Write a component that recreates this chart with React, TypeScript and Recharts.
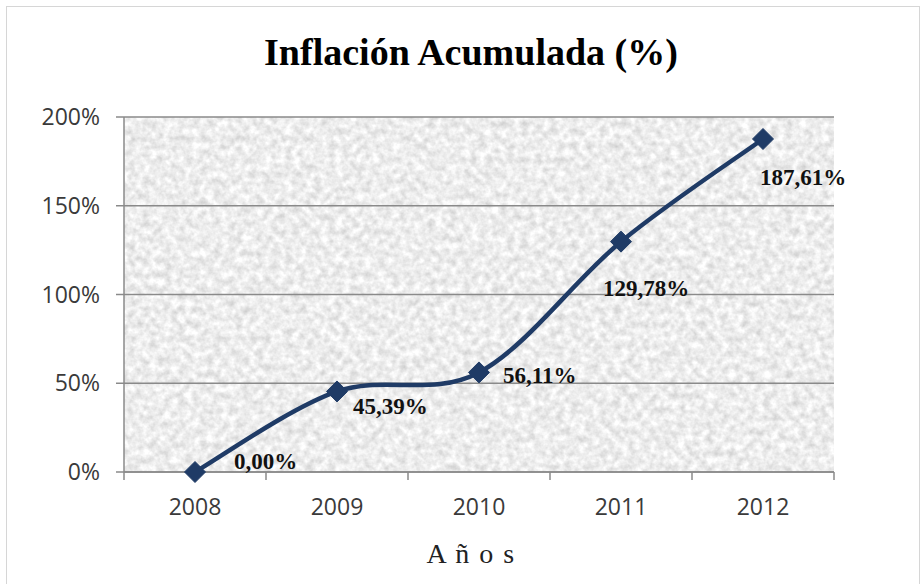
import React from "react";
import { LineChart, Line, XAxis, YAxis, CartesianGrid } from "recharts";

const years = [2008, 2009, 2010, 2011, 2012];
const inflation = [0, 45.39, 56.11, 129.78, 187.61];
const yTicks = [0, 50, 100, 150, 200];
const xTicks = [2007.5, 2008, 2008.5, 2009, 2009.5, 2010, 2010.5, 2011, 2011.5, 2012, 2012.5];
const chartTitle = "Inflación Acumulada (%)";
const xTitle = "A ñ o s";
// label placement (dx, dy from the point) — styling, not data
const labelOffsets: [number, number][] = [
  [39, -3],
  [16, 23],
  [24, 11],
  [-18, 54],
  [-3, 46],
];

const data = years.map((y, i) => ({ year: y, value: inflation[i] }));

const NAVY = "#1f3b66";
const GRID = "#8a8a8a";
const SANS = "'Open Sans', 'Noto Sans', sans-serif";
const SERIF = "'Liberation Serif', 'Times New Roman', serif";

// Excel-like smoothed line (Catmull-Rom style Bezier)
function excelCurve(context: any) {
  let pts: number[][] = [];
  return {
    areaStart() {},
    areaEnd() {},
    lineStart() {
      pts = [];
    },
    point(x: number, y: number) {
      pts.push([+x, +y]);
    },
    lineEnd() {
      if (!pts.length) return;
      context.moveTo(pts[0][0], pts[0][1]);
      for (let i = 0; i < pts.length - 1; i++) {
        const p0 = pts[Math.max(0, i - 1)];
        const p1 = pts[i];
        const p2 = pts[i + 1];
        const p3 = pts[Math.min(pts.length - 1, i + 2)];
        context.bezierCurveTo(
          p1[0] + (p2[0] - p0[0]) / 6,
          p1[1] + (p2[1] - p0[1]) / 6,
          p2[0] - (p3[0] - p1[0]) / 6,
          p2[1] - (p3[1] - p1[1]) / 6,
          p2[0],
          p2[1]
        );
      }
    },
  };
}

const fmt = (v: number) => v.toFixed(2).replace(".", ",") + "%";

const DiamondDot = (props: any) => {
  const { cx, cy, index, value } = props;
  if (cx == null || cy == null) return null;
  const r = 10.5;
  const off = labelOffsets[index] || [10, 20];
  return (
    <g>
      <polygon
        points={`${cx},${cy - r} ${cx + r},${cy} ${cx},${cy + r} ${cx - r},${cy}`}
        fill={NAVY}
        stroke={NAVY}
        strokeWidth={1}
      />
      <text
        x={cx + off[0]}
        y={cy + off[1]}
        textAnchor="start"
        fontFamily={SERIF}
        fontWeight="bold"
        fontSize={23}
        fill="#111"
      >
        {fmt(Array.isArray(value) ? value[1] : value)}
      </text>
    </g>
  );
};

const XTick = (props: any) => {
  const { x, y, payload } = props;
  const v = payload.value;
  if (Number.isInteger(v)) {
    return (
      <text x={x} y={y + 43} textAnchor="middle" fontFamily={SANS} fontSize={23} fill="#3a3a3a">
        {String(v)}
      </text>
    );
  }
  return <line x1={x} x2={x} y1={y} y2={y + 8} stroke={GRID} strokeWidth={1.5} />;
};

const YTick = (props: any) => {
  const { x, y, payload } = props;
  return (
    <text x={x} y={y + 8} textAnchor="end" fontFamily={SANS} fontSize={23} fill="#3a3a3a">
      {`${payload.value}%`}
    </text>
  );
};

export default function App() {
  return (
    <div style={{ position: "absolute", left: 0, top: 0, width: 924, height: 584, background: "#fff", overflow: "hidden" }}>
      <svg width={0} height={0} style={{ position: "absolute" }}>
        <defs>
          <filter id="noiseF" x="0" y="0" width="100%" height="100%" colorInterpolationFilters="sRGB">
            <feTurbulence type="fractalNoise" baseFrequency="0.14" numOctaves="3" seed="7" />
            <feColorMatrix
              type="matrix"
              values="0.28 0 0 0 0.79  0.28 0 0 0 0.79  0.28 0 0 0 0.79  0 0 0 0 1"
            />
          </filter>
          <pattern id="tex" patternUnits="userSpaceOnUse" width="924" height="584">
            <rect width="924" height="584" fill="#ebebeb" />
            <rect width="924" height="584" fill="#000" filter="url(#noiseF)" />
          </pattern>
        </defs>
      </svg>
      <div
        style={{
          position: "absolute",
          left: 6,
          top: 6,
          width: 914,
          height: 600,
          border: "1.5px solid #d6d6d6",
          boxSizing: "border-box",
        }}
      />
      <div style={{ position: "absolute", left: 0, top: 0 }}>
        <LineChart width={924} height={584} data={data} margin={{ top: 117, right: 90, bottom: 82, left: 64 }}>
          <CartesianGrid vertical={false} stroke={GRID} strokeWidth={1.5} fill="url(#tex)" fillOpacity={1} />
          <XAxis
            dataKey="year"
            type="number"
            domain={[2007.5, 2012.5]}
            ticks={xTicks}
            interval={0}
            height={30}
            tickSize={0}
            tickMargin={0}
            tickLine={false}
            axisLine={{ stroke: GRID, strokeWidth: 1.5 }}
            tick={<XTick />}
          />
          <YAxis
            domain={[0, 200]}
            ticks={yTicks}
            width={60}
            interval={0}
            tickSize={8}
            tickMargin={16}
            tickLine={{ stroke: GRID, strokeWidth: 1.5 }}
            axisLine={{ stroke: GRID, strokeWidth: 1.5 }}
            tick={<YTick />}
          />
          <Line
            dataKey="value"
            type={excelCurve as any}
            stroke={NAVY}
            strokeWidth={4.5}
            dot={(p: any) => <DiamondDot key={"d" + p.index} {...p} />}
            activeDot={false}
            isAnimationActive={false}
          />
        </LineChart>
      </div>
      <svg width={924} height={584} style={{ position: "absolute", left: 0, top: 0, pointerEvents: "none" }}>
        <text x={471} y={65} textAnchor="middle" fontFamily={SERIF} fontWeight="bold" fontSize={38} fill="#000">
          {chartTitle}
        </text>
        <text x={471} y={563} textAnchor="middle" fontFamily={SERIF} fontSize={28} letterSpacing={1.5} fill="#222">
          {xTitle}
        </text>
      </svg>
    </div>
  );
}
